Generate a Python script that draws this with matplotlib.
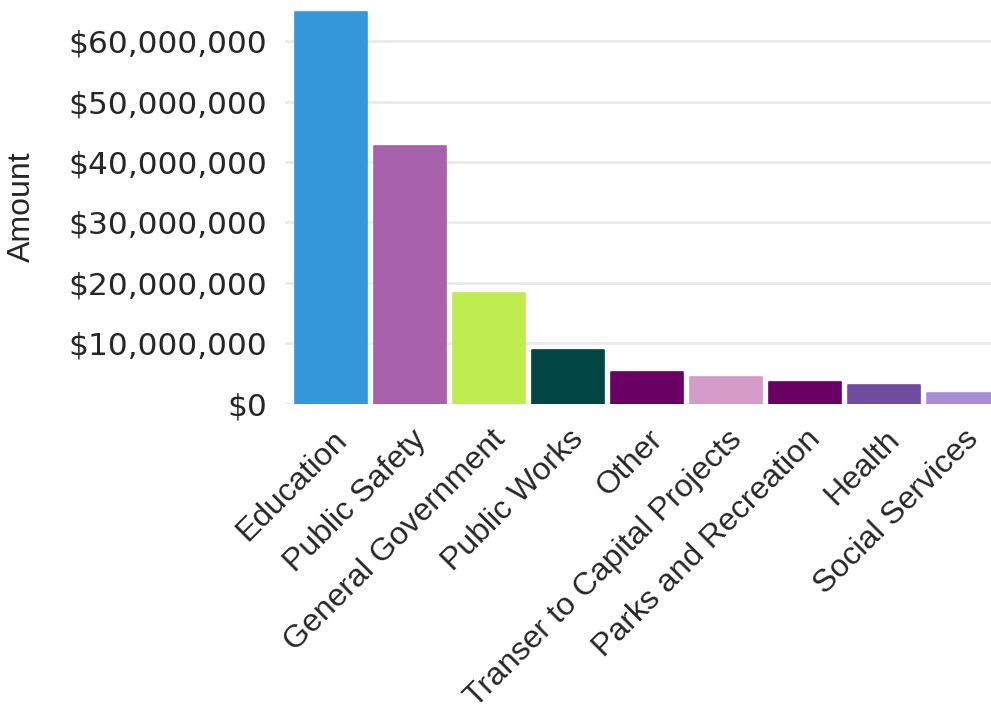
import matplotlib
matplotlib.use("Agg")
import matplotlib.pyplot as plt
import matplotlib.transforms as mtransforms
from matplotlib.ticker import FuncFormatter, MultipleLocator

categories = ["Education", "Public Safety", "General Government", "Public Works", "Other",
              "Transer to Capital Projects", "Parks and Recreation", "Health", "Social Services"]
amounts = [64.9e6, 42.7e6, 18.3e6, 8.8e6, 5.2e6, 4.4e6, 3.5e6, 3.0e6, 1.7e6]
colors = ["#3498DB", "#A761AB", "#BFED50", "#004643", "#6B0064",
          "#D59BC9", "#6B0064", "#6E4CA0", "#A98DD4"]

plt.rcParams['font.family'] = ['Liberation Sans', 'DejaVu Sans']

W, H = 991, 715
fig = plt.figure(figsize=(W / 100, H / 100), dpi=100)
ax = fig.add_axes([285 / W, (H - 403.6) / H, 1 - 285 / W, 403.6 / H])

x = list(range(len(categories)))
ax.bar(x, amounts, width=0.91, color=colors, edgecolor=colors, linewidth=1.2,
       joinstyle='round', zorder=3)

ax.set_xlim(-46 / 79, (991 - 331) / 79)
ax.set_ylim(0, 403.6 / 6.04 * 1e6)
ax.yaxis.set_major_locator(MultipleLocator(10e6))
ax.yaxis.set_major_formatter(FuncFormatter(lambda v, p: "${:,.0f}".format(v)))
ax.grid(axis='y', color='#EBEBEB', linewidth=2, zorder=0)
ax.set_axisbelow(True)
for s in ax.spines.values():
    s.set_visible(False)

ax.tick_params(axis='y', length=0, pad=13, labelsize=22.5, labelcolor='#262626')
for lbl in ax.get_yticklabels():
    lbl.set_family(['DejaVu Sans'])
ax.tick_params(axis='x', length=0, pad=15, labelsize=23, labelcolor='#262626')
ax.set_xticks(x)
ax.set_xticklabels(categories, rotation=45, ha='right', va='top')
offset = mtransforms.ScaledTranslation(22 / 100, 0, fig.dpi_scale_trans)
for lbl in ax.get_xticklabels():
    lbl.set_transform(lbl.get_transform() + offset)

fig.text(22 / W, 1 - 207 / H, "Amount", rotation=90, ha='center', va='center',
         fontsize=23, color='#262626')

fig.savefig("out.png", dpi=100)
